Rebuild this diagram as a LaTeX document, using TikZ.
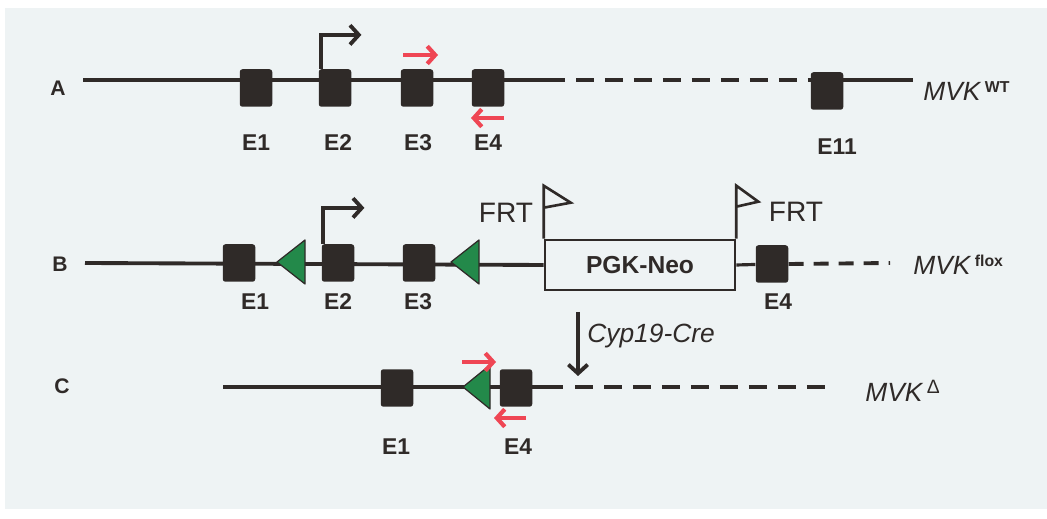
\documentclass[tikz,border=0pt]{standalone}
\usepackage{fontspec}
\setmainfont{Liberation Sans}
\usetikzlibrary{arrows.meta}
\definecolor{bgc}{HTML}{EEF3F4}
\definecolor{dnac}{HTML}{2F2A28}
\definecolor{loxc}{HTML}{23894A}
\definecolor{primc}{HTML}{EF4654}

\tikzset{
  exon/.style={fill=dnac,rounded corners=1.5pt,minimum width=0.65cm,minimum height=0.75cm,inner sep=0pt},
  dna/.style={draw=dnac,line width=2.2pt},
  gap/.style={dna,dash pattern=on 0.36cm off 0.22cm},
  elabel/.style={text=dnac,font=\bfseries\fontsize{13}{13}\selectfont,inner sep=0pt},
  rowlabel/.style={text=dnac,font=\bfseries\fontsize{12}{12}\selectfont,inner sep=0pt},
  allele/.style={text=dnac,anchor=west,inner sep=0pt,font=\itshape\fontsize{15}{15}\selectfont},
  prom/.style={draw=dnac,line width=2.2pt,-{Straight Barb[length=5pt,width=11pt]}},
  primer/.style={draw=primc,line width=2.4pt,-{Straight Barb[length=4.5pt,width=10pt]}},
  loxp/.style={fill=loxc,draw=dnac,line width=0.7pt,line join=round},
  frt/.style={draw=dnac,line width=1.5pt,line join=miter},
}

\begin{document}
\begin{tikzpicture}[x=0.02cm,y=-0.02cm]
  \useasboundingbox (0,0) rectangle (1047,519);
  \fill[bgc] (5,8) rectangle (1047,509);

  % A: wild-type allele
  \node[rowlabel] (la) at (58,88) {A};
  \coordinate (a0) at (83,80);
  \coordinate (a5) at (547,80);
  \coordinate (a6) at (811,80);
  \coordinate (a7) at (913,80);
  \draw[dna] (a0) -- (a5);
  \draw[gap] (a5) -- (a6);
  \draw[dna] (a6) -- (a7);
  \node[exon] (a1) at (256,88) {};
  \node[exon] (a2) at (335,88) {};
  \node[exon] (a3) at (417,88) {};
  \node[exon] (a4) at (488,88) {};
  \node[exon] (a11) at (827,91) {};
  \node[elabel] (a1l) at (256,143) {E1};
  \node[elabel] (a2l) at (338,143) {E2};
  \node[elabel] (a3l) at (418,143) {E3};
  \node[elabel] (a4l) at (488,143) {E4};
  \node[elabel] (a11l) at (837,147) {E11};
  \node[allele] (mvkwt) at (923,91) {MVK\,\raisebox{0.55ex}{\upshape\bfseries\fontsize{9}{9}\selectfont WT}};
  % transcription start and primers
  \draw[prom] (a2.north west) ++(3,0) -- ++(0,-34) -- ++(40,0);
  \coordinate (pa1) at (403,55);
  \coordinate (pa2) at (438,55);
  \coordinate (pa3) at (504,118);
  \coordinate (pa4) at (471,118);
  \draw[primer] (pa1) -- (pa2);
  \draw[primer] (pa3) -- (pa4);

  % B: floxed allele with FRT-flanked PGK-Neo
  \node[rowlabel] (lb) at (60,264) {B};
  \coordinate (b0) at (85,263);
  \coordinate (b9) at (890,263);
  \node[draw=dnac,line width=1.5pt,minimum width=3.8cm,minimum height=1cm,inner sep=0pt,
        font=\bfseries\fontsize{14}{14}\selectfont,text=dnac] (neo) at (640,265) {PGK-Neo};
  \draw[dna] (b0) -- (neo.west);
  \node[exon] (b1) at (239,263) {};
  \node[exon] (b2) at (338,263) {};
  \node[exon] (b3) at (419,263) {};
  \node[exon] (b4) at (772,264) {};
  \draw[dna,line width=1.8pt] (neo.east) -- (b4);
  \draw[gap,dash pattern=on 0.3cm off 0.2cm] (b4.east) -- (b9);
  \filldraw[loxp] (277,262) -- ++(28,-22) -- ++(0,44) -- cycle;
  \filldraw[loxp] (451,262) -- ++(28,-22) -- ++(0,44) -- cycle;
  \node[elabel] (b1l) at (255,302) {E1};
  \node[elabel] (b2l) at (338,302) {E2};
  \node[elabel] (b3l) at (418,302) {E3};
  \node[elabel] (b4l) at (778,302) {E4};
  \draw[prom] (b2.north west) ++(2,0) -- ++(0,-36) -- ++(41,0);
  % FRT flags on the cassette
  \draw[frt] (neo.north west) -- ++(0,-53) -- ++(27,17) -- ++(-27,5);
  \draw[frt] (neo.north east) -- ++(0,-53) -- ++(22,16) -- ++(-22,5);
  \node[text=dnac,font=\fontsize{16}{16}\selectfont,inner sep=0pt] (frt1) at (506,213) {FRT};
  \node[text=dnac,font=\fontsize{16}{16}\selectfont,inner sep=0pt] (frt2) at (796,212) {FRT};
  \node[allele] (mvkfl) at (913,265) {MVK\,\raisebox{0.55ex}{\upshape\bfseries\fontsize{9}{9}\selectfont flox}};

  % Cre deletion
  \coordinate (cre0) at (578,312);
  \coordinate (cre1) at (578,376);
  \draw[prom,-{Straight Barb[length=5pt,width=11pt]}] (cre0) -- (cre1);
  \node[allele] (cre) at (587,336) {Cyp19-Cre};

  % C: deleted allele
  \node[rowlabel] (lc) at (62,386) {C};
  \coordinate (c0) at (223,387);
  \coordinate (c5) at (563,387);
  \coordinate (c6) at (575,387);
  \coordinate (c7) at (832,387);
  \draw[dna] (c0) -- (c5);
  \draw[gap] (c6) -- (c7);
  \node[exon] (c1) at (397,388) {};
  \node[exon] (c4) at (516,388) {};
  \filldraw[loxp] (463,387) -- ++(27,-22) -- ++(0,44) -- cycle;
  \node[elabel] (c1l) at (396,447) {E1};
  \node[elabel] (c4l) at (518,447) {E4};
  \coordinate (pc1) at (462,362);
  \coordinate (pc2) at (496,362);
  \coordinate (pc3) at (526,418);
  \coordinate (pc4) at (494,418);
  \draw[primer] (pc1) -- (pc2);
  \draw[primer] (pc3) -- (pc4);
  \node[allele] (mvkd) at (865,391) {MVK\,\raisebox{0.55ex}{\upshape\fontsize{11}{11}\selectfont Δ}};
\end{tikzpicture}
\end{document}
